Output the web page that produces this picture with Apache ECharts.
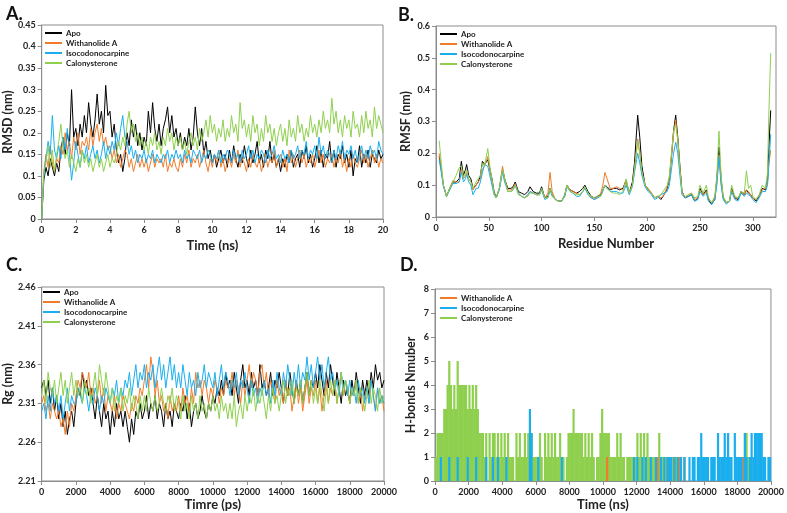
<!DOCTYPE html>
<html><head><meta charset="utf-8">
<script src="https://cdn.jsdelivr.net/npm/echarts@6/dist/echarts.min.js"></script>
<style>html,body{margin:0;padding:0;background:#fff}#c{width:787px;height:513px}</style>
</head><body><div id="c"></div>
<script>
// ---------- Panel A: RMSD (nm) vs time (ns), sampled every 0.125 ns ----------
const rmsdApo = [
0.001,0.09,0.12,0.10,0.14,0.12,0.10,0.13,
0.11,0.16,0.19,0.15,0.20,0.17,0.30,0.19,
0.21,0.17,0.22,0.19,0.24,0.20,0.27,0.22,
0.19,0.23,0.29,0.22,0.25,0.20,0.31,0.24,
0.25,0.19,0.22,0.16,0.13,0.15,0.11,0.14,
0.20,0.17,0.23,0.19,0.22,0.17,0.20,0.16,
0.19,0.17,0.25,0.20,0.27,0.21,0.18,0.22,
0.17,0.21,0.23,0.26,0.20,0.24,0.19,0.21,
0.17,0.20,0.16,0.19,0.17,0.21,0.16,0.19,
0.26,0.20,0.17,0.21,0.15,0.18,0.14,0.16,
0.13,0.15,0.12,0.14,0.16,0.13,0.15,0.12,
0.16,0.13,0.17,0.14,0.12,0.15,0.13,0.17,
0.14,0.12,0.16,0.13,0.15,0.18,0.13,0.15,
0.12,0.16,0.14,0.18,0.13,0.15,0.12,0.14,
0.11,0.14,0.12,0.15,0.13,0.16,0.12,0.14,
0.15,0.12,0.16,0.14,0.17,0.13,0.15,0.12,
0.14,0.17,0.13,0.16,0.12,0.15,0.14,0.18,
0.13,0.16,0.12,0.15,0.14,0.17,0.13,0.15,
0.12,0.16,0.10,0.14,0.13,0.17,0.12,0.15,
0.13,0.16,0.12,0.15,0.14,0.13,0.16,0.14,
0.15];
const rmsdWith = [
0.001,0.11,0.15,0.12,0.17,0.13,0.11,0.14,
0.13,0.17,0.15,0.20,0.16,0.18,0.14,0.19,
0.16,0.20,0.15,0.18,0.17,0.19,0.16,0.21,
0.17,0.20,0.22,0.18,0.21,0.17,0.19,0.16,
0.17,0.14,0.16,0.13,0.15,0.12,0.14,0.16,
0.15,0.12,0.14,0.11,0.13,0.15,0.12,0.14,
0.12,0.14,0.11,0.13,0.15,0.12,0.14,0.13,
0.14,0.12,0.15,0.11,0.13,0.12,0.14,0.12,
0.11,0.14,0.12,0.15,0.13,0.16,0.12,0.14,
0.13,0.15,0.12,0.14,0.16,0.13,0.11,0.14,
0.12,0.15,0.13,0.16,0.12,0.14,0.11,0.13,
0.14,0.12,0.15,0.13,0.16,0.12,0.14,0.13,
0.11,0.14,0.12,0.15,0.13,0.12,0.14,0.11,
0.13,0.15,0.12,0.14,0.13,0.16,0.12,0.14,
0.15,0.12,0.14,0.11,0.16,0.13,0.15,0.12,
0.14,0.16,0.13,0.15,0.12,0.14,0.13,0.15,
0.12,0.14,0.16,0.13,0.15,0.12,0.14,0.13,
0.15,0.12,0.14,0.13,0.16,0.12,0.14,0.11,
0.14,0.12,0.15,0.13,0.12,0.14,0.16,0.13,
0.15,0.12,0.14,0.16,0.13,0.15,0.12,0.14,
0.13];
const rmsdIso = [
0.001,0.10,0.14,0.18,0.15,0.24,0.16,0.14,
0.17,0.14,0.19,0.16,0.21,0.15,0.09,0.13,
0.18,0.15,0.12,0.16,0.14,0.17,0.13,0.15,
0.17,0.14,0.16,0.13,0.15,0.18,0.14,0.17,
0.15,0.18,0.16,0.20,0.17,0.21,0.24,0.19,
0.18,0.15,0.17,0.14,0.16,0.13,0.15,0.14,
0.16,0.13,0.15,0.14,0.16,0.13,0.15,0.14,
0.13,0.15,0.14,0.16,0.13,0.15,0.14,0.16,
0.14,0.15,0.13,0.16,0.14,0.15,0.13,0.16,
0.15,0.14,0.16,0.13,0.15,0.14,0.16,0.15,
0.13,0.15,0.14,0.16,0.13,0.15,0.14,0.16,
0.15,0.13,0.16,0.14,0.15,0.13,0.16,0.14,
0.15,0.17,0.14,0.16,0.13,0.15,0.14,0.16,
0.15,0.13,0.16,0.14,0.15,0.17,0.14,0.15,
0.13,0.16,0.14,0.15,0.13,0.16,0.14,0.15,
0.17,0.14,0.16,0.15,0.18,0.14,0.16,0.15,
0.17,0.14,0.19,0.15,0.17,0.14,0.16,0.15,
0.13,0.16,0.14,0.17,0.15,0.18,0.14,0.16,
0.15,0.17,0.14,0.16,0.13,0.15,0.17,0.14,
0.16,0.14,0.17,0.15,0.16,0.14,0.18,0.16,
0.15];
const rmsdCalo = [
0.001,0.11,0.13,0.17,0.12,0.16,0.11,0.15,
0.18,0.22,0.17,0.14,0.16,0.12,0.15,0.13,
0.11,0.14,0.12,0.16,0.13,0.15,0.12,0.14,
0.11,0.13,0.15,0.12,0.14,0.11,0.13,0.15,
0.12,0.14,0.13,0.15,0.18,0.16,0.19,0.17,
0.22,0.25,0.20,0.22,0.18,0.20,0.17,0.19,
0.16,0.18,0.15,0.19,0.17,0.20,0.16,0.18,
0.15,0.19,0.17,0.21,0.18,0.20,0.16,0.19,
0.17,0.19,0.16,0.18,0.15,0.18,0.20,0.17,
0.19,0.16,0.21,0.18,0.20,0.23,0.19,0.24,
0.20,0.22,0.18,0.21,0.19,0.23,0.18,0.21,
0.19,0.24,0.20,0.22,0.18,0.27,0.21,0.23,
0.19,0.22,0.18,0.24,0.20,0.22,0.17,0.21,
0.18,0.24,0.20,0.22,0.18,0.21,0.17,0.20,
0.22,0.18,0.21,0.17,0.23,0.19,0.21,0.18,
0.24,0.20,0.22,0.18,0.21,0.19,0.24,0.20,
0.22,0.19,0.23,0.20,0.25,0.21,0.23,0.20,
0.28,0.22,0.25,0.20,0.23,0.19,0.24,0.21,
0.23,0.19,0.25,0.21,0.22,0.19,0.24,0.20,
0.25,0.21,0.23,0.19,0.26,0.21,0.24,0.22,
0.20];

// ---------- Panel B: RMSF (nm) per residue ----------
const residues = [
3,5,7,10,13,16,19,22,24,26,
28,29,31,33,35,38,40,42,44,46,
49,51,53,55,57,60,63,65,68,71,
73,75,78,81,84,87,89,92,95,98,
100,103,106,108,110,113,116,119,122,124,
127,130,133,136,139,141,144,147,150,153,
156,158,160,162,165,168,171,174,177,180,
183,186,188,190,191,193,195,198,201,204,
207,210,213,216,219,221,223,225,227,229,
231,233,236,239,242,245,248,250,253,256,
258,261,264,266,268,270,272,275,278,280,
283,286,289,292,294,296,298,300,303,306,
309,312,314,315,317];
const rmsfApo = [
0.19,0.15,0.10,0.065,0.09,0.11,0.11,0.12,0.175,0.13,
0.15,0.165,0.13,0.12,0.09,0.10,0.11,0.13,0.175,0.165,
0.18,0.15,0.12,0.08,0.06,0.09,0.15,0.12,0.09,0.09,
0.095,0.11,0.08,0.075,0.07,0.08,0.095,0.08,0.075,0.075,
0.095,0.06,0.065,0.09,0.07,0.055,0.05,0.05,0.07,0.10,
0.085,0.08,0.075,0.08,0.09,0.10,0.08,0.065,0.06,0.065,
0.07,0.085,0.10,0.095,0.085,0.09,0.09,0.085,0.09,0.115,
0.075,0.11,0.17,0.27,0.32,0.25,0.16,0.10,0.085,0.075,
0.06,0.065,0.055,0.07,0.09,0.12,0.19,0.27,0.32,0.25,
0.16,0.08,0.06,0.065,0.07,0.05,0.06,0.09,0.07,0.085,
0.055,0.04,0.055,0.12,0.22,0.12,0.06,0.045,0.05,0.09,
0.06,0.055,0.08,0.07,0.085,0.075,0.07,0.06,0.05,0.065,
0.09,0.085,0.12,0.20,0.335];
const rmsfWith = [
0.20,0.15,0.10,0.065,0.09,0.115,0.11,0.11,0.15,0.12,
0.13,0.14,0.12,0.11,0.085,0.10,0.11,0.12,0.15,0.16,
0.19,0.15,0.11,0.075,0.06,0.09,0.16,0.12,0.085,0.085,
0.09,0.105,0.075,0.065,0.06,0.07,0.08,0.075,0.07,0.07,
0.085,0.06,0.075,0.14,0.08,0.055,0.05,0.05,0.065,0.10,
0.085,0.08,0.075,0.07,0.08,0.09,0.075,0.06,0.055,0.06,
0.075,0.10,0.14,0.12,0.09,0.09,0.095,0.09,0.085,0.11,
0.075,0.10,0.15,0.21,0.245,0.20,0.14,0.10,0.09,0.075,
0.06,0.065,0.06,0.07,0.095,0.12,0.19,0.26,0.305,0.24,
0.15,0.075,0.06,0.07,0.075,0.055,0.06,0.085,0.07,0.08,
0.06,0.045,0.06,0.11,0.195,0.11,0.06,0.045,0.05,0.085,
0.06,0.06,0.075,0.07,0.085,0.08,0.07,0.06,0.055,0.065,
0.085,0.09,0.11,0.16,0.21];
const rmsfIso = [
0.18,0.14,0.095,0.065,0.085,0.105,0.105,0.11,0.14,0.11,
0.12,0.135,0.11,0.10,0.07,0.09,0.09,0.11,0.14,0.165,
0.16,0.13,0.10,0.07,0.06,0.085,0.14,0.11,0.08,0.08,
0.085,0.10,0.075,0.065,0.06,0.07,0.08,0.075,0.07,0.07,
0.085,0.055,0.06,0.085,0.065,0.055,0.05,0.05,0.065,0.095,
0.08,0.075,0.065,0.065,0.08,0.09,0.07,0.06,0.055,0.06,
0.065,0.08,0.10,0.09,0.08,0.08,0.08,0.075,0.075,0.10,
0.07,0.095,0.14,0.18,0.20,0.17,0.13,0.095,0.08,0.07,
0.055,0.06,0.07,0.075,0.08,0.10,0.15,0.20,0.235,0.20,
0.13,0.07,0.06,0.065,0.07,0.05,0.055,0.08,0.065,0.075,
0.05,0.04,0.055,0.10,0.19,0.10,0.055,0.04,0.05,0.08,
0.055,0.05,0.075,0.065,0.075,0.07,0.065,0.055,0.045,0.06,
0.08,0.08,0.10,0.15,0.26];
const rmsfCalo = [
0.24,0.17,0.10,0.065,0.09,0.11,0.13,0.155,0.16,0.125,
0.14,0.15,0.12,0.11,0.09,0.11,0.12,0.13,0.17,0.16,
0.215,0.16,0.12,0.075,0.06,0.09,0.15,0.12,0.08,0.08,
0.085,0.10,0.07,0.065,0.06,0.065,0.075,0.075,0.07,0.07,
0.09,0.06,0.06,0.09,0.07,0.055,0.05,0.05,0.07,0.10,
0.08,0.075,0.07,0.07,0.08,0.095,0.075,0.065,0.06,0.065,
0.065,0.085,0.10,0.09,0.08,0.075,0.075,0.07,0.08,0.12,
0.075,0.10,0.15,0.21,0.24,0.20,0.14,0.10,0.085,0.075,
0.06,0.065,0.07,0.085,0.10,0.13,0.20,0.27,0.29,0.24,
0.15,0.075,0.065,0.07,0.075,0.06,0.065,0.10,0.075,0.10,
0.06,0.045,0.065,0.13,0.27,0.13,0.065,0.045,0.05,0.10,
0.065,0.06,0.08,0.075,0.145,0.09,0.10,0.065,0.055,0.07,
0.10,0.09,0.14,0.30,0.515];

// ---------- Panel C: Rg (nm) vs time (ps), sampled every 125 ps ----------
const rgApo = [
2.33,2.34,2.32,2.34,2.31,2.33,2.30,2.32,
2.29,2.31,2.28,2.30,2.27,2.29,2.30,2.28,
2.31,2.33,2.32,2.35,2.33,2.34,2.32,2.33,
2.31,2.29,2.32,2.30,2.28,2.31,2.29,2.30,
2.27,2.30,2.28,2.31,2.29,2.30,2.28,2.30,
2.28,2.26,2.29,2.27,2.30,2.29,2.31,2.29,
2.30,2.32,2.29,2.31,2.30,2.32,2.29,2.31,
2.30,2.28,2.31,2.29,2.30,2.28,2.31,2.30,
2.29,2.31,2.30,2.32,2.29,2.31,2.28,2.30,
2.31,2.29,2.30,2.32,2.30,2.29,2.31,2.30,
2.32,2.31,2.33,2.32,2.34,2.32,2.35,2.33,
2.34,2.32,2.35,2.33,2.31,2.34,2.36,2.33,
2.34,2.32,2.35,2.33,2.34,2.32,2.36,2.33,
2.34,2.32,2.33,2.35,2.32,2.34,2.33,2.35,
2.33,2.31,2.34,2.32,2.35,2.33,2.31,2.34,
2.32,2.34,2.31,2.33,2.35,2.32,2.34,2.33,
2.35,2.33,2.36,2.34,2.32,2.35,2.33,2.36,
2.34,2.32,2.35,2.33,2.31,2.34,2.32,2.33,
2.31,2.34,2.32,2.35,2.33,2.31,2.34,2.32,
2.34,2.32,2.35,2.33,2.36,2.34,2.35,2.33,
2.34];
const rgWith = [
2.31,2.32,2.30,2.31,2.29,2.31,2.30,2.29,
2.30,2.28,2.29,2.27,2.30,2.28,2.31,2.30,
2.32,2.34,2.33,2.35,2.34,2.33,2.35,2.32,
2.33,2.31,2.32,2.34,2.31,2.33,2.30,2.32,
2.31,2.30,2.32,2.29,2.31,2.30,2.32,2.31,
2.30,2.29,2.31,2.30,2.32,2.31,2.33,2.32,
2.34,2.36,2.33,2.37,2.35,2.32,2.34,2.31,
2.32,2.30,2.31,2.29,2.32,2.30,2.31,2.30,
2.32,2.30,2.33,2.31,2.32,2.30,2.33,2.31,
2.35,2.33,2.34,2.32,2.34,2.33,2.31,2.33,
2.32,2.34,2.33,2.31,2.33,2.32,2.34,2.33,
2.33,2.35,2.32,2.34,2.33,2.31,2.34,2.32,
2.34,2.36,2.33,2.35,2.34,2.32,2.35,2.36,
2.33,2.35,2.32,2.34,2.33,2.31,2.34,2.32,
2.33,2.31,2.34,2.32,2.33,2.30,2.32,2.34,
2.31,2.33,2.30,2.32,2.34,2.31,2.33,2.32,
2.34,2.31,2.33,2.30,2.32,2.34,2.31,2.33,
2.32,2.34,2.31,2.33,2.35,2.32,2.34,2.33,
2.31,2.33,2.32,2.34,2.31,2.33,2.30,2.32,
2.33,2.31,2.34,2.32,2.30,2.33,2.31,2.32,
2.30];
const rgIso = [
2.30,2.31,2.29,2.32,2.30,2.33,2.31,2.32,
2.30,2.32,2.29,2.31,2.33,2.30,2.32,2.31,
2.31,2.33,2.32,2.31,2.33,2.32,2.30,2.32,
2.31,2.33,2.32,2.30,2.32,2.31,2.33,2.32,
2.31,2.33,2.32,2.34,2.31,2.33,2.32,2.34,
2.33,2.35,2.32,2.34,2.36,2.33,2.35,2.34,
2.36,2.33,2.35,2.34,2.36,2.33,2.35,2.37,
2.34,2.36,2.33,2.35,2.37,2.34,2.36,2.33,
2.35,2.33,2.36,2.34,2.32,2.35,2.33,2.34,
2.32,2.35,2.33,2.34,2.36,2.33,2.35,2.34,
2.33,2.35,2.32,2.34,2.36,2.33,2.35,2.34,
2.32,2.34,2.33,2.35,2.32,2.34,2.33,2.35,
2.33,2.31,2.34,2.32,2.33,2.31,2.33,2.32,
2.34,2.32,2.33,2.31,2.34,2.32,2.35,2.33,
2.32,2.35,2.33,2.36,2.34,2.32,2.35,2.33,
2.36,2.33,2.35,2.34,2.37,2.34,2.36,2.33,
2.35,2.37,2.34,2.36,2.33,2.35,2.37,2.34,
2.35,2.33,2.34,2.32,2.35,2.33,2.34,2.32,
2.34,2.32,2.33,2.31,2.34,2.32,2.33,2.31,
2.33,2.31,2.34,2.32,2.30,2.33,2.31,2.32,
2.31];
const rgCalo = [
2.32,2.34,2.31,2.35,2.33,2.32,2.34,2.31,
2.33,2.35,2.32,2.34,2.31,2.33,2.35,2.32,
2.34,2.32,2.33,2.31,2.34,2.32,2.33,2.31,
2.33,2.35,2.32,2.36,2.34,2.32,2.35,2.33,
2.31,2.33,2.30,2.32,2.31,2.33,2.30,2.32,
2.31,2.33,2.30,2.32,2.31,2.29,2.32,2.30,
2.32,2.30,2.33,2.31,2.30,2.32,2.30,2.31,
2.33,2.31,2.30,2.32,2.31,2.33,2.30,2.32,
2.31,2.29,2.32,2.30,2.31,2.29,2.32,2.30,
2.31,2.29,2.32,2.30,2.31,2.29,2.31,2.30,
2.32,2.30,2.31,2.29,2.32,2.30,2.31,2.29,
2.31,2.29,2.32,2.28,2.30,2.31,2.29,2.32,
2.30,2.32,2.31,2.33,2.30,2.32,2.31,2.33,
2.31,2.29,2.32,2.30,2.33,2.31,2.32,2.30,
2.32,2.34,2.31,2.33,2.32,2.34,2.31,2.33,
2.32,2.34,2.31,2.33,2.35,2.32,2.34,2.31,
2.33,2.31,2.34,2.32,2.30,2.33,2.31,2.34,
2.32,2.34,2.31,2.33,2.35,2.32,2.34,2.33,
2.31,2.33,2.32,2.34,2.31,2.33,2.32,2.30,
2.32,2.34,2.31,2.33,2.32,2.30,2.33,2.31,
2.32];

// ---------- Panel D: H-bond counts, 100 ns bins (0-20000 ns) ----------
const hbWith = [
0,0,0,0,0,0,0,0,0,0, 0,0,0,0,0,0,0,0,0,0,
0,0,0,0,0,0,0,0,0,0, 0,0,0,0,0,0,0,0,0,0,
0,0,0,0,0,0,0,0,0,0, 0,0,0,0,0,0,0,0,0,0,
0,0,0,0,0,0,0,0,0,0, 0,0,0,0,0,0,0,0,0,0,
0,0,0,0,0,0,0,0,0,0, 0,0,0,0,0,0,0,0,0,0,
0,0,1,0,0,0,0,0,0,0, 0,0,0,0,0,0,0,0,0,0,
0,0,0,0,0,0,0,0,0,0, 0,0,1,0,1,0,0,0,1,0,
0,0,1,0,0,1,0,0,1,0, 0,0,0,0,0,0,0,0,0,0,
0,0,0,0,0,0,0,0,0,0, 0,0,0,0,0,0,0,0,0,0,
0,0,0,1,0,0,0,0,0,0, 0,0,0,0,0,0,0,0,0,0];
const hbIso = [
0,0,0,1,0,0,0,0,1,0, 0,0,0,1,0,0,0,0,0,1,
0,0,0,0,1,0,0,0,0,0, 1,0,0,0,1,0,0,1,0,0,
0,0,1,0,0,0,0,0,0,0, 0,0,0,0,0,0,3,2,0,0,
0,1,0,0,0,0,0,0,0,0, 0,0,0,0,0,1,0,0,0,0,
0,0,0,0,0,0,0,0,0,0, 0,0,0,0,0,0,0,0,0,0,
0,0,0,0,0,0,0,0,0,0, 0,0,0,0,0,0,0,0,1,0,
1,0,0,1,0,1,0,0,1,0, 0,1,0,0,1,0,1,0,1,1,
1,0,1,0,1,0,1,0,1,0, 0,1,0,1,1,0,1,1,2,1,
1,1,1,0,1,1,1,0,2,1, 1,1,2,1,2,1,1,0,2,1,
1,1,1,0,2,1,0,1,2,1, 2,2,2,2,2,1,1,0,1,1];
const hbCalo = [
1,2,2,2,2,3,3,4,5,4, 3,4,3,5,4,4,4,4,4,3,
4,3,4,3,4,3,2,2,2,1, 2,0,2,1,2,2,1,2,1,2,
1,2,1,2,1,1,1,0,2,1, 2,1,1,2,1,2,1,2,1,1,
1,1,2,1,0,2,1,2,1,2, 1,2,1,1,2,1,1,0,1,2,
2,2,3,2,2,2,2,2,1,2, 1,2,1,2,1,0,1,1,2,3,
2,2,2,2,1,1,1,1,2,1, 2,1,1,0,1,1,1,1,1,1,
2,1,2,1,2,1,2,1,1,1, 1,1,1,2,1,1,0,1,0,1,
0,1,0,1,0,1,0,0,0,0, 0,0,0,0,0,0,0,0,0,0,
1,0,0,0,0,0,0,0,1,0, 0,0,0,0,0,0,0,0,0,0,
0,0,0,0,2,2,1,0,0,0, 0,0,1,0,0,1,0,0,0,0];

// ---------- axis tick labels ----------
const rgTicks = [2.21, 2.26, 2.31, 2.36, 2.41, 2.46];
const resTicks = [0, 50, 100, 150, 200, 250, 300];
const names = ['Apo', 'Withanolide A', 'Isocodonocarpine', 'Calonysterone'];
const colors = ['#000000', '#F07C2A', '#1AAEEE', '#8ED04E'];

// sampling grids
const timeNs = rmsdApo.map((_, i) => i * 0.125);
const timePs = rgApo.map((_, i) => i * 125);
const binNs = hbCalo.map((_, i) => i * 100 + 50);

const FONT = 'Lato, "Open Sans", sans-serif';
const tickLbl = { fontSize: 9, fontWeight: 'bold', color: '#222', fontFamily: FONT };
const axName = { fontSize: 13, fontWeight: 'bold', color: '#222', fontFamily: FONT };
const gray = '#8c8c8c';
const plain = v => String(v);

function xAx(idx, min, max, interval, name, gap, extra) {
  return Object.assign({
    type: 'value', gridIndex: idx, min, max, interval,
    name, nameLocation: 'middle', nameGap: gap, nameTextStyle: axName,
    axisLine: { show: true, lineStyle: { color: gray } },
    axisTick: { show: true, length: 4, lineStyle: { color: gray } },
    axisLabel: Object.assign({ margin: 7, formatter: plain }, tickLbl),
    splitLine: { show: false }
  }, extra || {});
}
function yAx(idx, min, max, interval, name, gap, extra) {
  return Object.assign({
    type: 'value', gridIndex: idx, min, max, interval,
    name, nameLocation: 'middle', nameGap: gap, nameTextStyle: Object.assign({}, axName, { fontSize: 12.5 }),
    axisLine: { show: true, lineStyle: { color: gray } },
    axisTick: { show: true, length: 4, lineStyle: { color: gray } },
    axisLabel: Object.assign({ margin: 6 }, tickLbl),
    splitLine: { show: false }
  }, extra || {});
}
function lineSeries(name, color, xs, ys, gi) {
  return {
    type: 'line', name, xAxisIndex: gi, yAxisIndex: gi,
    data: ys.map((v, i) => [xs[i], v]),
    showSymbol: false, symbol: 'none', animation: false,
    lineStyle: { color, width: 1 }, itemStyle: { color }
  };
}
function barSeries(name, color, ys) {
  return {
    type: 'bar', name, xAxisIndex: 3, yAxisIndex: 3,
    data: ys.map((v, i) => [binNs[i], v]),
    barWidth: 2.2, barGap: '-100%', animation: false,
    itemStyle: { color }
  };
}
function legendAt(left, top, data) {
  return {
    left, top, orient: 'vertical', data, selectedMode: false,
    icon: 'rect', itemWidth: 17, itemHeight: 2, itemGap: 0,
    textStyle: { fontSize: 8, fontWeight: 'bold', color: '#222', fontFamily: FONT, lineHeight: 10, padding: [0, 0, 0, -1] },
    padding: 0
  };
}

const gridBase = { show: true, borderColor: gray, borderWidth: 1, containLabel: false };
const option = {
  backgroundColor: '#fff',
  textStyle: { fontFamily: FONT },
  title: [
    { text: 'A.', left: 1, top: 0, textStyle: { fontSize: 18, fontWeight: 'bold', color: '#111', fontFamily: FONT } },
    { text: 'B.', left: 393, top: 1, textStyle: { fontSize: 18, fontWeight: 'bold', color: '#111', fontFamily: FONT } },
    { text: 'C.', left: 1, top: 251, textStyle: { fontSize: 18, fontWeight: 'bold', color: '#111', fontFamily: FONT } },
    { text: 'D.', left: 395, top: 251, textStyle: { fontSize: 18, fontWeight: 'bold', color: '#111', fontFamily: FONT } }
  ],
  grid: [
    Object.assign({ left: 40, top: 25, width: 343, height: 194 }, gridBase),
    Object.assign({ left: 436, top: 26, width: 340, height: 191 }, gridBase),
    Object.assign({ left: 40, top: 287, width: 344, height: 194 }, gridBase),
    Object.assign({ left: 435, top: 289, width: 340, height: 192 }, gridBase)
  ],
  xAxis: [
    xAx(0, 0, 20, 2, 'Time (ns)', 20),
    xAx(1, 0, 322, null, 'Residue Number', 20, {
      axisLabel: Object.assign({ margin: 7, customValues: resTicks, formatter: plain }, tickLbl),
      axisTick: { show: true, length: 4, lineStyle: { color: gray }, customValues: resTicks }
    }),
    xAx(2, 0, 20000, 2000, 'Timre (ps)', 17),
    xAx(3, 0, 20000, 2000, 'Time (ns)', 16)
  ],
  yAxis: [
    yAx(0, 0, 0.45, 0.05, 'RMSD (nm)', 25),
    yAx(1, 0, 0.6, 0.1, 'RMSF (nm)', 24),
    yAx(2, 2.21, 2.46, null, 'Rg (nm)', 27, {
      axisLabel: Object.assign({ margin: 6, customValues: rgTicks, formatter: v => v.toFixed(2) }, tickLbl),
      axisTick: { show: true, length: 4, lineStyle: { color: gray }, customValues: rgTicks }
    }),
    yAx(3, 0, 8, 1, 'H-bonds Nmuber', 18)
  ],
  legend: [
    legendAt(45, 28, names),
    legendAt(440, 29, names),
    legendAt(43, 287, names),
    legendAt(440, 293, names.slice(1))
  ],
  series: [
    lineSeries(names[0], colors[0], timeNs, rmsdApo, 0),
    lineSeries(names[1], colors[1], timeNs, rmsdWith, 0),
    lineSeries(names[2], colors[2], timeNs, rmsdIso, 0),
    lineSeries(names[3], colors[3], timeNs, rmsdCalo, 0),
    lineSeries(names[0], colors[0], residues, rmsfApo, 1),
    lineSeries(names[1], colors[1], residues, rmsfWith, 1),
    lineSeries(names[2], colors[2], residues, rmsfIso, 1),
    lineSeries(names[3], colors[3], residues, rmsfCalo, 1),
    lineSeries(names[0], colors[0], timePs, rgApo, 2),
    lineSeries(names[1], colors[1], timePs, rgWith, 2),
    lineSeries(names[2], colors[2], timePs, rgIso, 2),
    lineSeries(names[3], colors[3], timePs, rgCalo, 2),
    barSeries(names[3], colors[3], hbCalo),
    barSeries(names[1], colors[1], hbWith),
    barSeries(names[2], colors[2], hbIso)
  ]
};
const chart = echarts.init(document.getElementById('c'), null, { renderer: 'canvas' });
chart.setOption(option);
</script>
</body></html>
